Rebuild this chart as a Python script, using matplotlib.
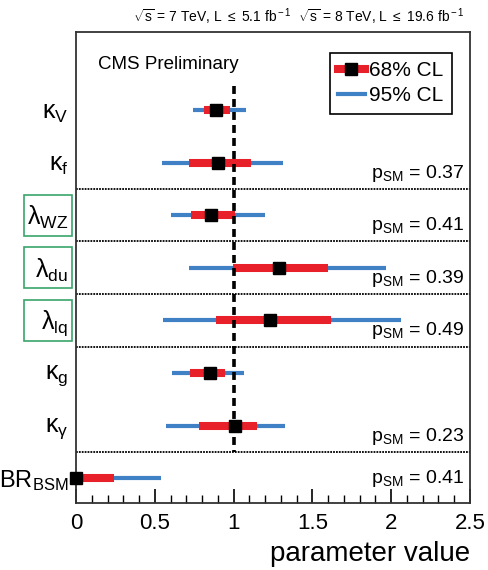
import matplotlib
matplotlib.use('Agg')
import matplotlib.pyplot as plt
from matplotlib.lines import Line2D
from matplotlib.patches import Rectangle
import matplotlib.transforms as mtransforms

plt.rcParams['font.family'] = ['Liberation Sans', 'DejaVu Sans']
plt.rcParams['mathtext.fontset'] = 'custom'
plt.rcParams['mathtext.rm'] = 'Liberation Sans'
plt.rcParams['mathtext.it'] = 'Liberation Sans'
plt.rcParams['mathtext.bf'] = 'Liberation Sans:bold'

# parameters, top to bottom
labels = [r'$\kappa_{\rm V}$', r'$\kappa_{\rm f}$', r'$\lambda_{\rm WZ}$', r'$\lambda_{\rm du}$',
          r'$\lambda_{\rm lq}$', r'$\kappa_{\rm g}$', r'$\kappa_{\gamma}$', r'$\rm BR_{BSM}$']
best = [0.89, 0.90, 0.855, 1.286, 1.23, 0.85, 1.007, 0.0]
lo68 = [0.81, 0.717, 0.73, 0.994, 0.89, 0.723, 0.78, 0.0]
hi68 = [0.98, 1.11, 1.007, 1.60, 1.62, 0.945, 1.15, 0.24]
lo95 = [0.74, 0.545, 0.605, 0.717, 0.55, 0.61, 0.57, 0.0]
hi95 = [1.08, 1.315, 1.20, 1.97, 2.06, 1.068, 1.326, 0.54]

# p-values for each group (row index of the label, value)
p_rows = [1, 2, 3, 4, 6, 7]
p_vals = ['0.37', '0.41', '0.39', '0.49', '0.23', '0.41']
separators = [1.5, 2.5, 3.5, 4.5, 6.5]
boxed = [2, 3, 4]

red = '#e8202a'
blue = '#4080c4'

fig = plt.figure(figsize=(4.89, 5.70), dpi=100)
ax = fig.add_axes([0.1554, 0.1175, 0.8057, 0.8264])

for i in range(len(labels)):
    ax.plot([lo95[i], hi95[i]], [i, i], color=blue, lw=3.0, solid_capstyle='butt', zorder=2)
    ax.plot([lo68[i], hi68[i]], [i, i], color=red, lw=5.8, solid_capstyle='butt', zorder=3)
    ax.plot(best[i], i, 's', color='black', markersize=8.6, zorder=5, clip_on=False)

ax.plot([1, 1], [-0.46, 6.5], color='black', lw=2.6, ls=(0, (2.2, 1.4)), zorder=4)

for s in separators:
    ax.axhline(s, color='black', lw=1.3, ls=(0, (1, 0.6)), zorder=1)

ax.set_xlim(0, 2.5)
ax.set_ylim(7.47, -1.48)
ax.set_yticks([])
ax.set_xticks([0, 0.5, 1, 1.5, 2, 2.5])
ax.set_xticklabels(['0', '0.5', '1', '1.5', '2', '2.5'])
ax.set_xticks([x / 10 for x in range(26)], minor=True)
ax.tick_params(axis='x', which='major', direction='in', length=10, width=1.2, labelsize=16, pad=7)
ax.tick_params(axis='x', which='minor', direction='in', length=6, width=1.0)
for sp in ax.spines.values():
    sp.set_linewidth(1.3)
    sp.set_color('#333333')

trans = mtransforms.blended_transform_factory(ax.transAxes, ax.transData)
for i, lab in enumerate(labels):
    fs = 17 if i == 7 else 18
    ax.text(-0.02, i + 0.05, lab, transform=trans, ha='right', va='center', fontsize=fs)
for i in boxed:
    ax.add_patch(Rectangle((-0.132, i - 0.39), 0.122, 0.78, transform=trans, fill=False,
                           edgecolor='#3aa46a', lw=1.2, clip_on=False))

for r, pv in zip(p_rows, p_vals):
    off = 0.0 if r == 7 else 0.2
    ax.text(0.985, r + off, r'p$_{\rm SM}$ = ' + pv, transform=trans, ha='right', va='center', fontsize=14)

ax.text(0.055, 0.95, 'CMS Preliminary', transform=ax.transAxes, ha='left', va='top', fontsize=13.5)
fig.text(0.951, 0.97, r'$\sqrt{\rm s}$ = 7 TeV, L $\leq$ 5.1 fb$^{\rm -1}$  $\sqrt{\rm s}$ = 8 TeV, L $\leq$ 19.6 fb$^{\rm -1}$',
         ha='right', va='center', fontsize=10)
ax.set_xlabel('parameter value', fontsize=20, loc='right', labelpad=5)

h68 = Line2D([], [], color=red, lw=5.8, marker='s', markersize=8.6, markerfacecolor='black', markeredgecolor='black')
h95 = Line2D([], [], color=blue, lw=3.0)
leg = ax.legend([h68, h95], ['68% CL', '95% CL'], loc='upper right', bbox_to_anchor=(0.98, 0.978),
                fontsize=15, handlelength=1.3, handletextpad=0.2, borderpad=0.4, labelspacing=0.3,
                fancybox=False, framealpha=1)
leg.get_frame().set_edgecolor('black')
leg.get_frame().set_linewidth(1.2)

fig.savefig('out.png', dpi=100)
